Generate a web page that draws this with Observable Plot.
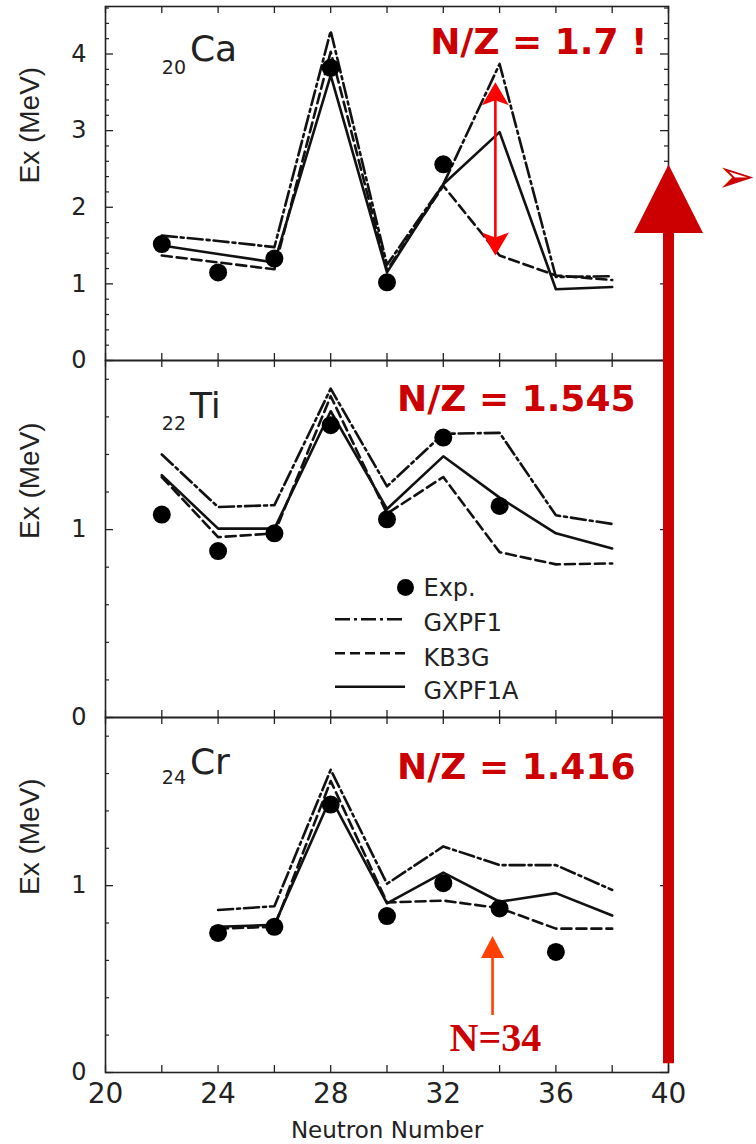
<!DOCTYPE html>
<html><head><meta charset="utf-8">
<script src="https://cdn.jsdelivr.net/npm/d3@7"></script>
<script src="https://cdn.jsdelivr.net/npm/@observablehq/plot@0.6"></script>
<style>
html,body{margin:0;padding:0;background:#fff;}
#chart{position:relative;width:756px;height:1144px;overflow:hidden;background:#fff;}
#chart svg{position:absolute;left:0;top:0;overflow:visible;}
g[aria-label="wide2"] text{letter-spacing:2px;}
g[aria-label="wide3"] text{letter-spacing:3px;}
g[aria-label="wide1"] text{letter-spacing:1px;}
</style></head><body><div id="chart"></div>
<script>
// ---------- data ----------
const xTickValues = [20,22,24,26,28,30,32,34,36,38,40];
const xTickLabels = [20,24,28,32,36,40];
const modelNames = ["GXPF1","KB3G","GXPF1A"];
const elementNames = ["Ca","Ti","Cr"];
const protonNumbers = ["20","22","24"];
const nzLabels = ["N/Z = 1.7 !","N/Z = 1.545","N/Z = 1.416"];

// 20Ca
const caN = [22,24,26,28,30,32,34,36,38];
const caGXPF1  = [1.63,1.56,1.48,4.30,1.25,2.30,3.87,1.09,1.10];
const caKB3G   = [1.37,1.28,1.19,4.03,1.18,2.28,1.37,1.11,1.05];
const caGXPF1A = [1.50,1.39,1.28,3.72,1.15,2.30,2.98,0.93,0.96];
const caExpN = [22,24,26,28,30,32];
const caExpE = [1.52,1.15,1.33,3.82,1.02,2.56];
const caYTicks = [0,1,2,3,4];

// 22Ti
const tiN = [22,24,26,28,30,32,34,36,38];
const tiGXPF1  = [1.40,1.12,1.13,1.75,1.23,1.51,1.515,1.076,1.03];
const tiKB3G   = [1.28,0.96,0.98,1.71,1.085,1.28,0.88,0.815,0.82];
const tiGXPF1A = [1.29,1.005,1.005,1.63,1.11,1.39,1.17,0.98,0.90];
const tiExpN = [22,24,26,28,30,32,34];
const tiExpE = [1.08,0.886,0.98,1.556,1.055,1.49,1.126];
const tiYTicks = [0,1];

// 24Cr
const crN = [24,26,28,30,32,34,36,38];
const crGXPF1  = [0.87,0.89,1.62,1.01,1.21,1.11,1.11,0.977];
const crKB3G   = [0.77,0.78,1.56,0.91,0.92,0.88,0.77,0.77];
const crGXPF1A = [0.78,0.79,1.47,0.905,1.07,0.914,0.96,0.84];
const crExpN = [24,26,28,30,32,34,36];
const crExpE = [0.747,0.78,1.434,0.837,1.013,0.878,0.645];
const crYTicks = [0,1];

// annotations (data units of the panel they are drawn in)
const caGapArrow = [{N:33.85, top:3.63, bottom:1.37}];
const n34Arrow = [{N:33.75, tip:0.73, tail:0.305}];
const n34Label = [{N:33.85, t:"N=34"}];
const bigArrow = [{N:40, tip:4.86, base:4.49, tail:0.047}];

// ---------- layout ----------
const W = 756, H = 1144, ML = 105, MR = 88, PW = W - ML - MR;
const panels = [
  {top:6, bottom:360, yMax:4.62, yTicks:caYTicks, N:caN, series:[caGXPF1,caKB3G,caGXPF1A], expN:caExpN, expE:caExpE, el:0, subDy:67.5, elDy:54.5, nzDx:-21, nzDy:47},
  {top:360, bottom:717, yMax:1.9, yTicks:tiYTicks, N:tiN, series:[tiGXPF1,tiKB3G,tiGXPF1A], expN:tiExpN, expE:tiExpE, el:1, subDy:69.5, elDy:57, nzDx:-33, nzDy:50.5},
  {top:717, bottom:1072, yMax:1.9, yTicks:crYTicks, N:crN, series:[crGXPF1,crKB3G,crGXPF1A], expN:crExpN, expE:crExpE, el:2, subDy:66.5, elDy:56.5, nzDx:-33, nzDy:61.3}
];
const dashes = ["15,4,3,4", "10,5", null];
const ink = "#111", axisInk = "#222", darkRed = "#cc0000";

const headUp = {draw(c){c.moveTo(0,0);c.lineTo(13.5,23);c.lineTo(0,18);c.lineTo(-13.5,23);c.closePath();}};
const headDown = {draw(c){c.moveTo(0,0);c.lineTo(13.5,-23);c.lineTo(0,-18);c.lineTo(-13.5,-23);c.closePath();}};
const triUpSmall = {draw(c){c.moveTo(0,0);c.lineTo(11.5,22);c.lineTo(-11.5,22);c.closePath();}};
const triUpBig = {draw(c){c.moveTo(0,0);c.lineTo(34.5,68.5);c.lineTo(-34.5,68.5);c.closePath();}};

const chart = document.getElementById("chart");

panels.forEach((p, pi) => {
  const h = p.bottom - p.top;
  const minor = d3.range(0.2, p.yMax, 0.2).filter(v => Math.abs(v - Math.round(v)) > 1e-6);
  const marks = [
    Plot.tickX(xTickValues, {x: d => d, insetTop: h - 7, stroke: axisInk, strokeWidth: 1.3}),
    Plot.tickX(xTickValues, {x: d => d, insetBottom: h - 7, stroke: axisInk, strokeWidth: 1.3}),
    Plot.tickY(p.yTicks, {y: d => d, insetRight: PW - 8, stroke: axisInk, strokeWidth: 1.3}),
    Plot.tickY(minor, {y: d => d, insetRight: PW - 4, stroke: axisInk, strokeWidth: 1.2}),
    Plot.tickY(p.yTicks, {y: d => d, insetLeft: PW - 8, stroke: axisInk, strokeWidth: 1.3}),
    Plot.tickY(minor, {y: d => d, insetLeft: PW - 4, stroke: axisInk, strokeWidth: 1.2}),
    Plot.frame({stroke: axisInk, strokeWidth: 1.6}),
    ...p.series.map((s, si) => Plot.line(p.N.map((n, i) => ({N: n, E: s[i]})), {
      x: "N", y: "E", stroke: ink, strokeWidth: 2.6, strokeDasharray: dashes[si] ?? undefined
    })),
    Plot.dot(p.expN.map((n, i) => ({N: n, E: p.expE[i]})), {x: "N", y: "E", r: 9, fill: "#000", stroke: "none"}),
    Plot.text(p.yTicks, {y: d => d, text: d => String(d), frameAnchor: "left", textAnchor: "end", dx: -19, lineAnchor: "middle", fontSize: 24, fill: axisInk}),
    Plot.text(["Ex (MeV)"], {text: d => d, frameAnchor: "left", rotate: -90, dx: -75, lineAnchor: "middle", fontSize: 28, fontFamily: "Liberation Sans, Arial, sans-serif", fill: axisInk}),
    Plot.text([{N: 22, t: protonNumbers[p.el]}], {x: "N", text: "t", frameAnchor: "top", dy: p.subDy, lineAnchor: "bottom", textAnchor: "start", fontSize: 19, fill: axisInk, ariaLabel: "wide1"}),
    Plot.text([{N: 23, t: elementNames[p.el]}], {x: "N", text: "t", frameAnchor: "top", dy: p.elDy, lineAnchor: "bottom", textAnchor: "start", fontSize: 36, fill: axisInk, ariaLabel: "wide3"}),
    Plot.text([nzLabels[pi]], {text: d => d, frameAnchor: "top-right", dx: p.nzDx, dy: p.nzDy, lineAnchor: "bottom", textAnchor: "end", fontSize: 36, fontWeight: "bold", fill: darkRed})
  ];
  if (pi === 0) {
    marks.push(
      Plot.ruleX(caGapArrow, {x: "N", y1: d => d.bottom + 0.2, y2: d => d.top - 0.2, stroke: "#ff0000", strokeWidth: 2.6}),
      Plot.dot(caGapArrow, {x: "N", y: "top", symbol: headUp, fill: "#ff0000", stroke: "none"}),
      Plot.dot(caGapArrow, {x: "N", y: "bottom", symbol: headDown, fill: "#ff0000", stroke: "none"}),
      Plot.text(["\u27A2"], {text: d => d, frameAnchor: "top-right", dx: 87, dy: 171, textAnchor: "end", lineAnchor: "middle", fontSize: 46, fill: darkRed})
    );
  }
  if (pi === 1) {
    const legendDy = [235, 270, 305, 338.5];
    ["Exp.", ...modelNames].forEach((t, i) => marks.push(
      Plot.text([t], {text: d => d, frameAnchor: "top-left", dx: 318, dy: legendDy[i], textAnchor: "start", lineAnchor: "bottom", fontSize: 24, fill: axisInk, ariaLabel: "wide2"})
    ));
    marks.push(Plot.dot(["Exp."], {frameAnchor: "top-left", dx: 300, dy: 227, r: 8.5, fill: "#000", stroke: "none"}));
  }
  if (pi === 2) {
    marks.push(
      Plot.text(xTickLabels, {x: d => d, text: d => String(d), frameAnchor: "bottom", dy: 22, lineAnchor: "middle", fontSize: 28, fill: axisInk}),
      Plot.text(["Neutron Number"], {text: d => d, frameAnchor: "bottom", dy: 65, lineAnchor: "bottom", fontSize: 23, fill: axisInk, ariaLabel: "wide2"}),
      Plot.ruleX(n34Arrow, {x: "N", y1: "tail", y2: d => d.tip - 0.1, stroke: "#ff4000", strokeWidth: 2.6}),
      Plot.dot(n34Arrow, {x: "N", y: "tip", symbol: triUpSmall, fill: "#ff4000", stroke: "none"}),
      Plot.text(n34Label, {x: "N", text: "t", frameAnchor: "bottom", dy: -21.3, lineAnchor: "bottom", fontSize: 40, fontWeight: "bold", fontFamily: "Liberation Serif, Times New Roman, serif", fill: darkRed}),
      Plot.ruleX(bigArrow, {x: "N", y1: "tail", y2: d => d.base + 0.01, stroke: darkRed, strokeWidth: 11}),
      Plot.dot(bigArrow, {x: "N", y: "tip", symbol: triUpBig, fill: darkRed, stroke: "none"})
    );
  }
  const svg = Plot.plot({
    width: W, height: H,
    marginLeft: ML, marginRight: MR, marginTop: p.top, marginBottom: H - p.bottom,
    x: {domain: [20, 40], axis: null},
    y: {domain: [0, p.yMax], axis: null},
    style: {background: "transparent", overflow: "visible", fontFamily: "DejaVu Sans, sans-serif", color: axisInk},
    marks
  });
  if (pi === 1) {
    const g = d3.select(svg).append("g").attr("aria-label", "legend swatches");
    const ys = [619.3, 653.3, 686.7];
    ys.forEach((y, i) => {
      g.append("line").attr("x1", 335).attr("x2", 405).attr("y1", y).attr("y2", y)
        .attr("stroke", ink).attr("stroke-width", 2.6)
        .attr("stroke-dasharray", dashes[i] ?? null);
    });
  }
  chart.appendChild(svg);
});
</script></body></html>
